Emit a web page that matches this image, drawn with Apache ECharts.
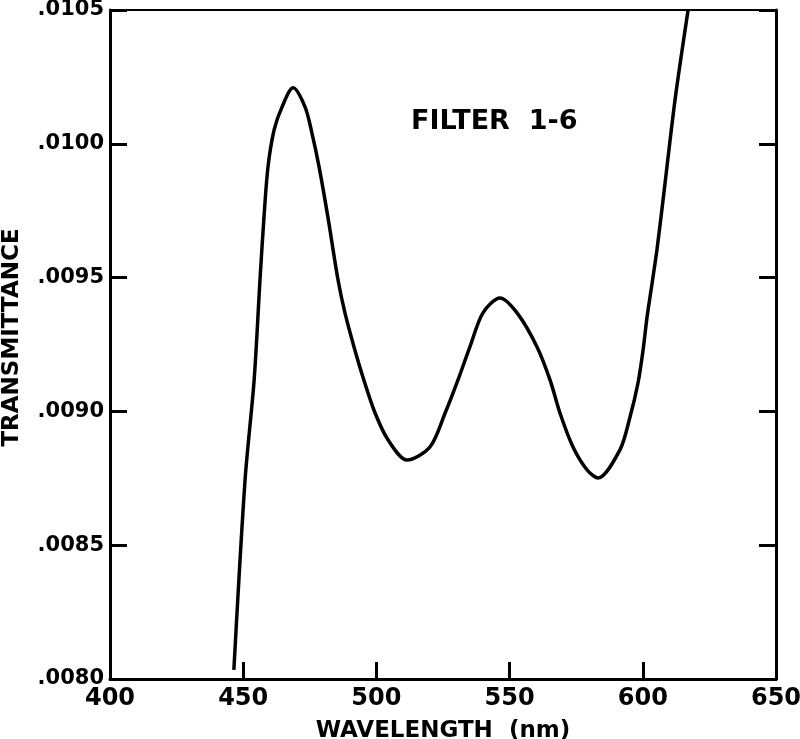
<!DOCTYPE html>
<html>
<head>
<meta charset="utf-8">
<script src="https://cdn.jsdelivr.net/npm/echarts@6/dist/echarts.min.js"></script>
<style>
html,body{margin:0;padding:0;background:#fff;}
#chart{width:800px;height:739px;}
</style>
</head>
<body>
<div id="chart"></div>
<script>
// Data
var wavelength = [446.5, 450.7, 454.1, 456.3, 457.8, 459.3, 461.6, 464.6, 468.7,
  473.2, 475.8, 478.5, 481.8, 485.6, 488.2, 491.6, 495.3, 499.5, 504.4,
  511.5, 520.1, 525.8, 530.6, 535.1, 540.0, 546.4, 552.8, 560.3, 565.2,
  568.9, 573.8, 579.1, 583.2, 591.4, 595.2, 598.2, 600.1, 601.6, 603.5,
  605.3, 607.6, 612.1, 617.0];
var transmittance = [0.008034, 0.008744, 0.009117, 0.009491, 0.009726, 0.009913, 0.010052, 0.010138, 0.010209,
  0.010138, 0.01004, 0.009913, 0.009726, 0.009491, 0.009368, 0.009241, 0.009117, 0.008994, 0.008893,
  0.008818, 0.008867, 0.008994, 0.009117, 0.009241, 0.009368, 0.009424, 0.009368, 0.009241, 0.009117,
  0.008994, 0.008867, 0.008781, 0.008751, 0.008856, 0.008979, 0.009106, 0.009229, 0.009353, 0.00948,
  0.009603, 0.00979, 0.010164, 0.0105];
var xTicks = [400, 450, 500, 550, 600, 650];
var yTicks = [".0080", ".0085", ".0090", ".0095", ".0100", ".0105"];
var titleText = "FILTER  1-6";
var xName = "WAVELENGTH  (nm)";
var yName = "TRANSMITTANCE";

var seriesData = wavelength.map(function (w, i) { return [w, transmittance[i]]; });
var FONT = "DejaVu Sans";

var chart = echarts.init(document.getElementById('chart'), null, {renderer: 'canvas'});
chart.setOption({
  animation: false,
  backgroundColor: '#fff',
  grid: {left: 110, right: 24, top: 10, bottom: 60, containLabel: false, outerBoundsMode: 'none',
    show: true, borderColor: '#000', borderWidth: 2, backgroundColor: 'transparent'},
  title: {
    text: titleText, left: 406, top: 103,
    textStyle: {fontFamily: FONT, fontSize: 27, fontWeight: 'bold', color: '#000'}
  },
  xAxis: [{
    type: 'value', min: xTicks[0], max: xTicks[xTicks.length - 1], interval: 50,
    name: xName, nameLocation: 'middle', nameGap: 41,
    nameTextStyle: {fontFamily: FONT, fontSize: 23, fontWeight: 'bold', color: '#000'},
    axisLine: {show: true, lineStyle: {color: '#000', width: 3}},
    axisTick: {show: true, inside: true, length: 17, lineStyle: {color: '#000', width: 3}},
    axisLabel: {fontFamily: FONT, fontSize: 24, fontWeight: 'bold', color: '#000', margin: 8,
      formatter: function (v) { return String(v); }},
    splitLine: {show: false}
  }],
  yAxis: [{
    type: 'value', min: 0.008, max: 0.0105, interval: 0.0005,
    name: yName, nameLocation: 'middle', nameGap: 86, nameRotate: 90,
    nameTextStyle: {fontFamily: FONT, fontSize: 23, fontWeight: 'bold', color: '#000', padding: [0, 0, 0, 14]},
    axisLine: {show: true, lineStyle: {color: '#000', width: 3}},
    axisTick: {show: true, inside: true, length: 17, lineStyle: {color: '#000', width: 3}},
    axisLabel: {fontFamily: FONT, fontSize: 21, fontWeight: 'bold', color: '#000', margin: 6,
      formatter: function (v) { var i = Math.round((v - 0.008) / 0.0005); return yTicks[i]; }},
    splitLine: {show: false}
  }, {
    type: 'value', min: 0.008, max: 0.0105, interval: 0.0005, position: 'right',
    axisLine: {show: true, lineStyle: {color: '#000', width: 3}},
    axisTick: {show: true, inside: true, length: 17, lineStyle: {color: '#000', width: 3}},
    axisLabel: {show: false},
    splitLine: {show: false}
  }],
  series: [{
    type: 'line', data: seriesData, smooth: 0.3, symbol: 'none', clip: true,
    lineStyle: {color: '#000', width: 3.5}
  }]
});
</script>
</body>
</html>
